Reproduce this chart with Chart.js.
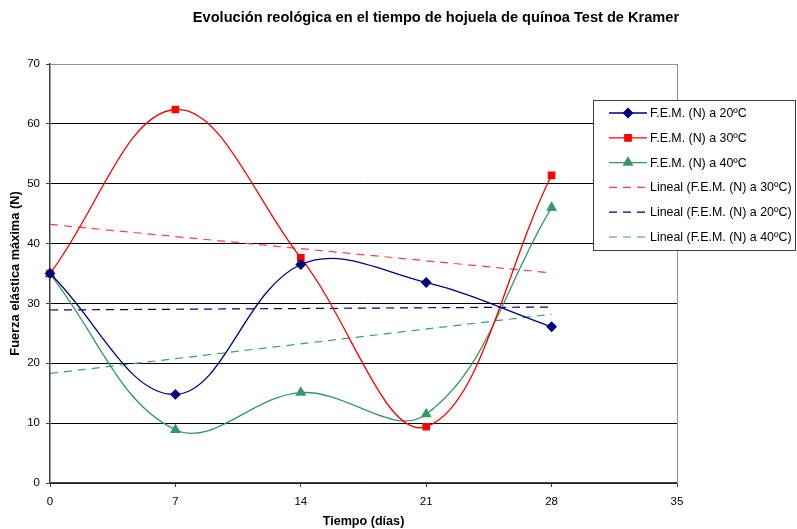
<!DOCTYPE html>
<html>
<head>
<meta charset="utf-8">
<script src="https://cdn.jsdelivr.net/npm/chart.js@4"></script>
<style>
  html, body { margin: 0; padding: 0; background: #fff; }
  #wrap { width: 797px; height: 529px; position: relative; }
</style>
</head>
<body>
<div id="wrap"><canvas id="reologia" width="797" height="529"></canvas></div>
<script>
const dias = [0, 7, 14, 21, 28];
const fem20 = [35.0, 14.8, 36.5, 33.5, 26.1];
const fem30 = [35.0, 62.4, 37.6, 9.4, 51.4];
const fem40 = [34.9, 8.9, 15.1, 11.5, 46.0];

// rectas de tendencia (extremos en día 0 y día 28)
const diasTend = [0, 28];
const tend30 = [43.2, 35.1];
const tend20 = [28.9, 29.4];
const tend40 = [18.3, 28.2];

const xTicks = [0, 7, 14, 21, 28, 35];
const titulo = 'Evolución reológica en el tiempo de hojuela de quínoa Test de Kramer';
const fuente = "'Liberation Sans', Arial, sans-serif";

function puntos(xs, ys) {
    return xs.map(function (x, i) { return { x: x, y: ys[i] }; });
}

const series = [
    { label: 'F.E.M. (N) a 20ºC', data: puntos(dias, fem20), borderColor: '#000080', backgroundColor: '#000080',
      pointStyle: 'rectRot', pointRadius: 4.5, borderWidth: 1.3, tension: 0.38 },
    { label: 'F.E.M. (N) a 30ºC', data: puntos(dias, fem30), borderColor: '#ff0000', backgroundColor: '#ff0000',
      pointStyle: 'rect', pointRadius: 4.5, borderWidth: 1.3, tension: 0.38 },
    { label: 'F.E.M. (N) a 40ºC', data: puntos(dias, fem40), borderColor: '#339966', backgroundColor: '#339966',
      pointStyle: 'triangle', pointRadius: 5, borderWidth: 1.3, tension: 0.38 },
    { label: 'Lineal (F.E.M. (N) a 30ºC)', data: puntos(diasTend, tend30), borderColor: '#ff4040',
      borderDash: [8, 6], pointRadius: 0, borderWidth: 1.2, tension: 0 },
    { label: 'Lineal (F.E.M. (N) a 20ºC)', data: puntos(diasTend, tend20), borderColor: '#000080',
      borderDash: [8, 6], pointRadius: 0, borderWidth: 1.2, tension: 0 },
    { label: 'Lineal (F.E.M. (N) a 40ºC)', data: puntos(diasTend, tend40), borderColor: '#3f9f6f',
      borderDash: [8, 6], pointRadius: 0, borderWidth: 1.2, tension: 0 }
];

series.forEach(function (s) {
    s.pointBorderColor = s.borderColor;
    s.pointBackgroundColor = s.backgroundColor;
    s.pointHoverRadius = s.pointRadius;
    s.clip = false;
    s.fill = false;
});

// titulo, marco derecho y leyenda
const extras = {
    id: 'extras',
    afterDraw: function (chart) {
        const ctx = chart.ctx;
        const area = chart.chartArea;
        ctx.save();

        ctx.strokeStyle = '#909090';
        ctx.lineWidth = 1;
        ctx.beginPath();
        ctx.moveTo(Math.round(area.right) + 0.5, area.top);
        ctx.lineTo(Math.round(area.right) + 0.5, area.bottom);
        ctx.stroke();

        ctx.fillStyle = '#000';
        ctx.font = 'bold 14.6px ' + fuente;
        ctx.textAlign = 'center';
        ctx.textBaseline = 'alphabetic';
        ctx.fillText(titulo, 436, 22);

        const bx = 593.5, by = 100.5, bw = 202, bh = 150;
        ctx.fillStyle = '#fff';
        ctx.fillRect(bx, by, bw, bh);
        ctx.strokeStyle = '#404040';
        ctx.strokeRect(bx, by, bw, bh);

        ctx.font = '12.4px ' + fuente;
        ctx.textAlign = 'left';
        ctx.textBaseline = 'middle';
        chart.data.datasets.forEach(function (ds, i) {
            const y = 113 + i * 24.8;
            ctx.strokeStyle = ds.borderColor;
            ctx.lineWidth = ds.borderWidth;
            ctx.setLineDash(ds.borderDash || []);
            ctx.beginPath();
            ctx.moveTo(609, y);
            ctx.lineTo(647, y);
            ctx.stroke();
            ctx.setLineDash([]);
            if (ds.pointRadius > 0) {
                ctx.fillStyle = ds.backgroundColor;
                ctx.strokeStyle = ds.borderColor;
                Chart.helpers.drawPoint(ctx, { pointStyle: ds.pointStyle, radius: ds.pointRadius, borderWidth: 1, rotation: 0 }, 628, y);
            }
            ctx.fillStyle = '#000';
            ctx.fillText(ds.label, 650, y + 0.5);
        });
        ctx.restore();
    }
};

new Chart(document.getElementById('reologia'), {
    type: 'line',
    data: { datasets: series },
    options: {
        responsive: false,
        animation: false,
        layout: { padding: { top: 64, right: 120, left: 0, bottom: 0 } },
        plugins: {
            legend: { display: false },
            title: { display: false },
            tooltip: { enabled: false }
        },
        scales: {
            x: {
                type: 'linear',
                min: 0,
                max: 35,
                afterBuildTicks: function (scale) {
                    scale.ticks = xTicks.map(function (v) { return { value: v }; });
                },
                afterFit: function (scale) { scale.height = 46; },
                grid: { drawOnChartArea: false, drawTicks: true, tickLength: 4, tickColor: '#404040' },
                border: { color: '#404040', width: 1.5 },
                ticks: { color: '#000', font: { family: fuente, size: 11.5 }, padding: 8, maxRotation: 0 },
                title: {
                    display: true,
                    text: 'Tiempo (días)',
                    color: '#000',
                    font: { family: fuente, size: 12.6, weight: 'bold' },
                    padding: { top: 0, bottom: 0 }
                }
            },
            y: {
                min: 0,
                max: 70,
                ticks: { stepSize: 10, color: '#000', font: { family: fuente, size: 11.5 }, padding: 6 },
                afterFit: function (scale) { scale.width = 50; },
                grid: {
                    color: function (c) { return c.tick && c.tick.value === 70 ? '#909090' : '#000'; },
                    lineWidth: 1,
                    tickLength: 4,
                    tickColor: '#404040'
                },
                border: { color: '#404040', width: 1.5 },
                title: {
                    display: true,
                    text: 'Fuerza elástica máxima (N)',
                    color: '#000',
                    font: { family: fuente, size: 12.8, weight: 'bold' },
                    padding: { top: 8, bottom: 0 }
                }
            }
        }
    },
    plugins: [extras]
});
</script>
</body>
</html>
